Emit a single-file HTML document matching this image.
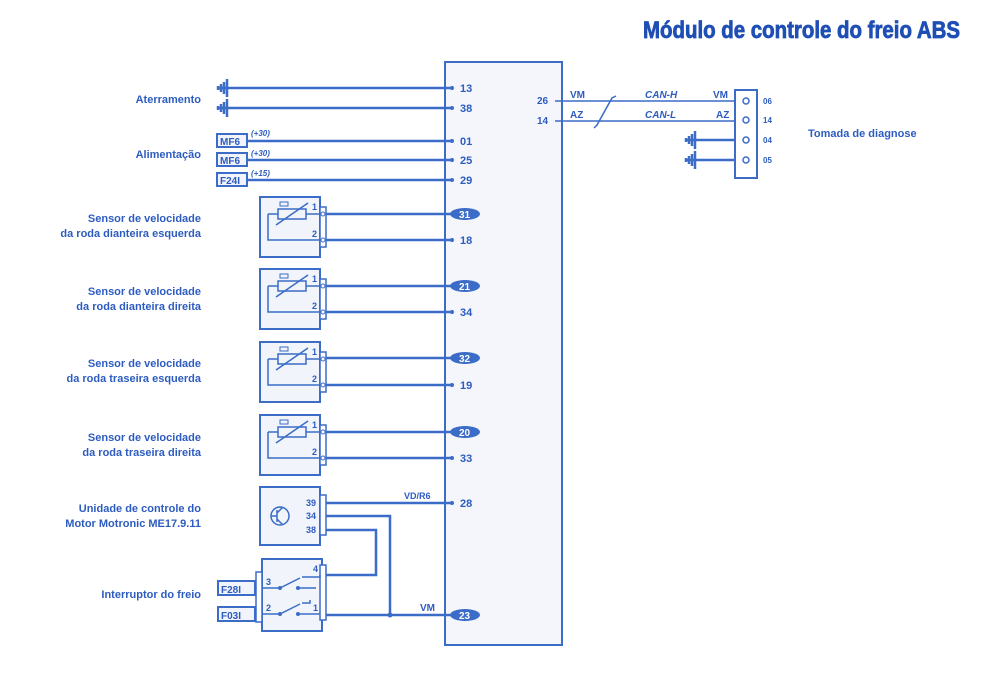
<!DOCTYPE html>
<html><head><meta charset="utf-8"><style>
html,body{margin:0;padding:0;background:#fff;}
svg{display:block;}
text{font-family:"Liberation Sans",sans-serif;font-weight:bold;fill:#2d5cc0;}
text.w{fill:#fff;}
</style></head><body>
<svg width="1007" height="673" viewBox="0 0 1007 673" xmlns="http://www.w3.org/2000/svg">
<defs>
<g id="gnd">
  <path d="M0,-9 V9 M-3,-6 V6 M-6,-4 V4 M-9,-2 V2 M-9,0 H0" stroke="#3a6cc8" stroke-width="2.5" fill="none"/>
</g>
<g id="sensor">
  <rect x="0" y="0" width="60" height="60" fill="#f1f4fa" stroke="#3a6cc8" stroke-width="2"/>
  <rect x="60" y="10" width="6" height="40" fill="#fff" stroke="#3a6cc8" stroke-width="1.5"/>
  <circle cx="63" cy="17" r="2" fill="#fff" stroke="#3a6cc8"/>
  <circle cx="63" cy="43" r="2" fill="#fff" stroke="#3a6cc8"/>
  <path d="M8,17 v26 H60 M8,17 h10 M46,17 h14" stroke="#3a6cc8" stroke-width="1.5" fill="none"/>
  <rect x="18" y="12" width="28" height="10" fill="none" stroke="#3a6cc8" stroke-width="1.5"/>
  <path d="M16,28 L48,6" stroke="#3a6cc8" stroke-width="1.5"/>
  <rect x="20" y="5" width="8" height="4" fill="none" stroke="#3a6cc8"/>
  <text x="52" y="13" font-size="9">1</text>
  <text x="52" y="40" font-size="9">2</text>
</g>
</defs>

<text x="643" y="38" font-size="24" textLength="317" lengthAdjust="spacingAndGlyphs" style="fill:#1f4fb5;stroke:#1f4fb5;stroke-width:0.8">Módulo de controle do freio ABS</text>

<rect x="445" y="62" width="117" height="583" fill="#f4f6fb" stroke="#3a6cc8" stroke-width="2"/>

<g stroke="#3a6cc8" stroke-width="2.5" fill="none">
  <line x1="222" y1="88" x2="452" y2="88"/>
  <line x1="222" y1="108" x2="452" y2="108"/>
  <line x1="247" y1="141" x2="452" y2="141"/>
  <line x1="247" y1="160" x2="452" y2="160"/>
  <line x1="247" y1="180" x2="452" y2="180"/>
  <line x1="326" y1="214" x2="452" y2="214"/>
  <line x1="326" y1="240" x2="452" y2="240"/>
  <line x1="326" y1="286" x2="452" y2="286"/>
  <line x1="326" y1="312" x2="452" y2="312"/>
  <line x1="326" y1="358" x2="452" y2="358"/>
  <line x1="326" y1="385" x2="452" y2="385"/>
  <line x1="326" y1="432" x2="452" y2="432"/>
  <line x1="326" y1="458" x2="452" y2="458"/>
  <line x1="326" y1="503" x2="452" y2="503"/>
  <path d="M326,516 H390 V615"/>
  <path d="M326,530 H376 V575 H326"/>
  <line x1="326" y1="615" x2="452" y2="615"/>
  <line x1="255" y1="588" x2="262" y2="588"/>
  <line x1="255" y1="614" x2="262" y2="614"/>
</g>
<g stroke="#3a6cc8" stroke-width="1.5" fill="none">
  <line x1="555" y1="101" x2="735" y2="101"/>
  <line x1="555" y1="121" x2="735" y2="121"/>
  <path d="M594,128 L597,125 L612,98 L616,96"/>
</g>
<g stroke="#3a6cc8" stroke-width="2.5">
  <line x1="695" y1="140" x2="735" y2="140"/>
  <line x1="695" y1="160" x2="735" y2="160"/>
</g>
<circle cx="390" cy="615" r="2.5" fill="#3a6cc8"/>

<use href="#gnd" x="227" y="88"/>
<use href="#gnd" x="227" y="108"/>
<use href="#gnd" x="695" y="140"/>
<use href="#gnd" x="695" y="160"/>

<g fill="#3a6cc8">
<circle cx="452" cy="88" r="2"/><circle cx="452" cy="108" r="2"/><circle cx="452" cy="141" r="2"/>
<circle cx="452" cy="160" r="2"/><circle cx="452" cy="180" r="2"/><circle cx="452" cy="240" r="2"/>
<circle cx="452" cy="312" r="2"/><circle cx="452" cy="385" r="2"/><circle cx="452" cy="458" r="2"/>
<circle cx="452" cy="503" r="2"/>
<ellipse cx="465" cy="214" rx="15" ry="6"/><ellipse cx="465" cy="286" rx="15" ry="6"/>
<ellipse cx="465" cy="358" rx="15" ry="6"/><ellipse cx="465" cy="432" rx="15" ry="6"/>
<ellipse cx="465" cy="615" rx="15" ry="6"/>
</g>
<g font-size="11">
<text x="460" y="92">13</text><text x="460" y="112">38</text><text x="460" y="145">01</text>
<text x="460" y="164">25</text><text x="460" y="184">29</text><text x="460" y="244">18</text>
<text x="460" y="316">34</text><text x="460" y="389">19</text><text x="460" y="462">33</text>
<text x="460" y="507">28</text>
</g>
<g font-size="10">
<text class="w" x="459" y="218">31</text><text class="w" x="459" y="290">21</text><text class="w" x="459" y="362">32</text>
<text class="w" x="459" y="436">20</text><text class="w" x="459" y="619">23</text>
</g>

<g fill="#f1f4fa" stroke="#3a6cc8" stroke-width="2">
<rect x="217" y="134" width="30" height="13"/><rect x="217" y="153" width="30" height="13"/>
<rect x="217" y="173" width="30" height="13"/>
<rect x="218" y="581" width="37" height="14"/><rect x="218" y="607" width="37" height="14"/>
</g>
<g font-size="10">
<text x="220" y="145">MF6</text><text x="220" y="164">MF6</text><text x="220" y="184">F24I</text>
<text x="221" y="593">F28I</text><text x="221" y="619">F03I</text>
</g>
<g font-size="8" font-style="italic">
<text x="251" y="136">(+30)</text><text x="251" y="156">(+30)</text><text x="251" y="176">(+15)</text>
</g>

<use href="#sensor" x="260" y="197"/>
<use href="#sensor" x="260" y="269"/>
<use href="#sensor" x="260" y="342"/>
<use href="#sensor" x="260" y="415"/>

<rect x="260" y="487" width="60" height="58" fill="#f1f4fa" stroke="#3a6cc8" stroke-width="2"/>
<rect x="320" y="495" width="6" height="40" fill="#fff" stroke="#3a6cc8" stroke-width="1.5"/>
<circle cx="280" cy="516" r="9" fill="none" stroke="#3a6cc8" stroke-width="1.5"/>
<path d="M277,510 v12 M277,516 h-6 M277,513 l6,-6 M277,519 l6,6" stroke="#3a6cc8" stroke-width="1.5" fill="none"/>
<g font-size="9"><text x="306" y="506">39</text><text x="306" y="519">34</text><text x="306" y="533">38</text></g>
<text x="404" y="499" font-size="9">VD/R6</text>
<text x="420" y="611" font-size="10">VM</text>

<rect x="262" y="559" width="60" height="72" fill="#f1f4fa" stroke="#3a6cc8" stroke-width="2"/>
<rect x="256" y="572" width="6" height="50" fill="#fff" stroke="#3a6cc8" stroke-width="1.5"/>
<rect x="320" y="565" width="6" height="55" fill="#fff" stroke="#3a6cc8" stroke-width="1.5"/>
<g stroke="#3a6cc8" stroke-width="1.5" fill="none">
<path d="M262,588 H280 L300,578 M302,577 H320 V575"/>
<path d="M298,588 H316"/>
<path d="M262,614 H280 L300,604 M302,603 H310 V600"/>
<path d="M298,614 H320"/>
</g>
<g fill="#3a6cc8"><circle cx="280" cy="588" r="2"/><circle cx="298" cy="588" r="2"/><circle cx="280" cy="614" r="2"/><circle cx="298" cy="614" r="2"/></g>
<g font-size="9"><text x="266" y="585">3</text><text x="266" y="611">2</text><text x="313" y="572">4</text><text x="313" y="611">1</text></g>

<rect x="735" y="90" width="22" height="88" fill="#fff" stroke="#3a6cc8" stroke-width="2"/>
<g fill="none" stroke="#3a6cc8" stroke-width="1.5">
<circle cx="746" cy="101" r="3"/><circle cx="746" cy="120" r="3"/><circle cx="746" cy="140" r="3"/><circle cx="746" cy="160" r="3"/>
</g>
<g font-size="8"><text x="763" y="104">06</text><text x="763" y="123">14</text><text x="763" y="143">04</text><text x="763" y="163">05</text></g>
<g font-size="10">
<text x="537" y="104">26</text><text x="537" y="124">14</text>
<text x="570" y="98">VM</text><text x="570" y="118">AZ</text>
<text x="713" y="98">VM</text><text x="716" y="118">AZ</text>
</g>
<g font-size="10" font-style="italic" style="font-weight:normal">
<text x="645" y="98">CAN-H</text><text x="645" y="118">CAN-L</text>
</g>
<text x="808" y="137" font-size="11">Tomada de diagnose</text>

<g font-size="11" text-anchor="end">
<text x="201" y="103">Aterramento</text>
<text x="201" y="158">Alimentação</text>
<text x="201" y="222">Sensor de velocidade</text><text x="201" y="237">da roda dianteira esquerda</text>
<text x="201" y="295">Sensor de velocidade</text><text x="201" y="310">da roda dianteira direita</text>
<text x="201" y="367">Sensor de velocidade</text><text x="201" y="382">da roda traseira esquerda</text>
<text x="201" y="441">Sensor de velocidade</text><text x="201" y="456">da roda traseira direita</text>
<text x="201" y="512">Unidade de controle do</text><text x="201" y="527">Motor Motronic ME17.9.11</text>
<text x="201" y="598">Interruptor do freio</text>
</g>
</svg>
</body></html>
